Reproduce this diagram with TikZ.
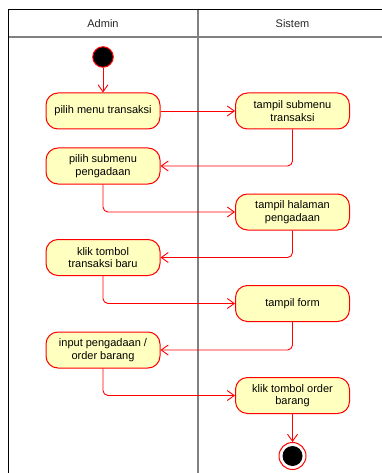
\documentclass[tikz,border=0pt]{standalone}
\usepackage{fontspec}
\setmainfont{Liberation Sans}
\usetikzlibrary{arrows.meta}
\definecolor{nodefill}{HTML}{FFFFC0}
\definecolor{lanegray}{HTML}{808080}
\begin{document}
\begin{tikzpicture}[x=1pt,y=-1pt,
  act/.style={draw=red, fill=nodefill, line width=1pt, rounded corners=12pt,
    minimum width=114pt, minimum height=36pt, align=center,
    font=\fontsize{11}{12.5}\selectfont, inner sep=2pt},
  arr/.style={draw=red, line width=0.9pt, rounded corners=5pt,
    -{Straight Barb[length=7pt,width=10pt,line width=0.9pt]}},
  lane/.style={draw=lanegray, line width=1.6pt},
  hdr/.style={font=\fontsize{11}{13}\selectfont, text=black!85}
]
\useasboundingbox (0,0) rectangle (382,473);
% frame
\draw[lane] (8,37) -- (382,37);
\draw[lane] (198,10) -- (198,473);
\draw[black, line width=1pt] (382,10) -- (8,10) -- (8,473);
\node[hdr] (hA) at (103,24) {Admin};
\node[hdr] (hS) at (292.5,24) {Sistem};
% start
\node[circle, draw=red, fill=black, line width=1pt, minimum size=20.5pt, inner sep=0pt] (start) at (103,57) {};
% activities
\node[act] (n1) at (103,111) {pilih menu transaksi};
\node[act] (n2) at (292.5,111) {tampil submenu\\transaksi};
\node[act] (n3) at (103,166) {pilih submenu\\pengadaan};
\node[act] (n4) at (292.5,212) {tampil halaman\\pengadaan};
\node[act] (n5) at (103,257.5) {klik tombol\\transaksi baru};
\node[act] (n6) at (292.5,303.5) {tampil form};
\node[act] (n7) at (103,350) {input pengadaan /\\order barang};
\node[act] (n8) at (292.5,395.5) {klik tombol order\\barang};
% end
\node[circle, draw=red, fill=white, line width=1pt, minimum size=27pt, inner sep=0pt] (end) at (292.5,456) {};
\node[circle, fill=black, minimum size=20pt, inner sep=0pt] (endin) at (end.center) {};
% connectors
\draw[arr] (start) -- (n1);
\draw[arr] (n1) -- (n2);
\draw[arr] (n2.south) |- (n3.east);
\draw[arr] (n3.south) |- (n4.west);
\draw[arr] (n4.south) |- (n5.east);
\draw[arr] (n5.south) |- (n6.west);
\draw[arr] (n6.south) |- (n7.east);
\draw[arr] (n7.south) |- (n8.west);
\draw[arr] (n8) -- (end);
\end{tikzpicture}
\end{document}
